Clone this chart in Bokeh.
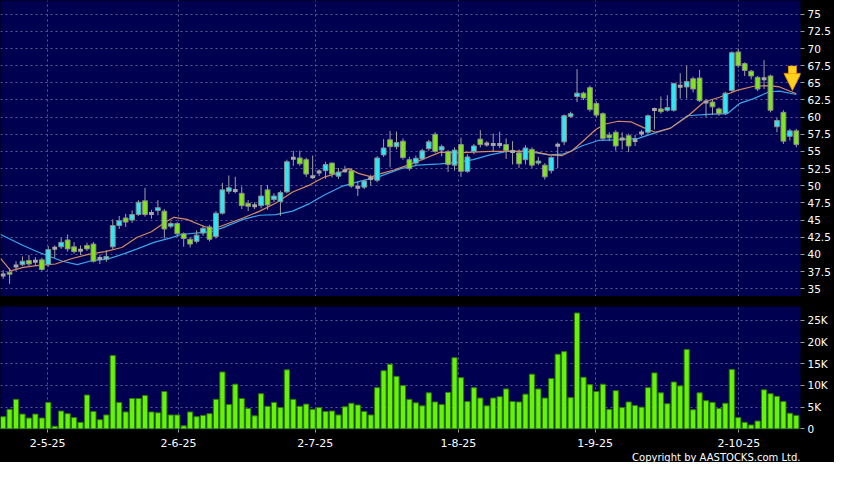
from bokeh.plotting import figure
from bokeh.layouts import column
from bokeh.models import (ColumnDataSource, Range1d, FixedTicker, Grid, Title,
                          Arrow, NormalHead, NumeralTickFormatter)
from bokeh.embed import file_html
from bokeh.resources import INLINE

# ---------------- data ----------------
opens = [37.0, 37.4, 38.3, 38.5, 39.1, 39.0, 39.2, 38.5, 40.9, 41.1,
         42.1, 41.1, 40.6, 41.3, 41.5, 39.4, 39.3, 41.1, 44.2, 45.3,
         45.0, 45.8, 47.8, 45.95, 46.4, 46.3, 44.1, 44.5, 43.0, 42.2,
         41.9, 43.1, 44.0, 42.6, 46.0, 49.2, 49.3, 48.9, 47.4, 47.1,
         47.1, 49.4, 48.0, 47.7, 49.1, 54.0, 54.05, 53.8, 51.3, 52.0,
         52.2, 53.3, 51.4, 52.2, 52.2, 49.8, 49.8, 51.05, 50.8, 54.5,
         56.7, 55.7, 56.5, 53.8, 53.3, 53.9, 55.4, 57.5, 55.2, 55.0,
         53.0, 56.0, 52.1, 55.0, 56.8, 56.1, 56.0, 56.0, 56.0, 55.0,
         54.8, 53.8, 55.3, 53.3, 53.0, 52.2, 55.9, 56.4, 60.1, 63.0,
         63.5, 64.3, 62.0, 60.5, 57.4, 57.8, 56.8, 57.3, 56.6, 57.7,
         57.8, 61.1, 61.2, 61.0, 61.0, 64.5, 64.4, 65.6, 65.7, 62.2,
         62.2, 61.2, 60.5, 63.9, 69.5, 67.8, 66.7, 65.8, 65.6, 66.0,
         58.6, 60.7, 57.2, 58.0]
highs = [37.7, 38.0, 39.0, 39.7, 39.9, 39.6, 39.5, 41.2, 41.3, 42.4,
         42.9, 41.8, 41.3, 41.7, 41.8, 39.9, 40.6, 45.1, 45.6, 45.9,
         46.4, 47.9, 49.7, 46.5, 47.9, 46.6, 44.8, 44.7, 43.2, 42.5,
         43.5, 44.2, 44.3, 46.3, 50.4, 51.5, 51.3, 49.9, 47.9, 47.6,
         50.1, 50.1, 48.9, 49.3, 53.8, 55.1, 55.1, 54.1, 54.4, 52.4,
         53.5, 53.4, 52.6, 52.9, 52.5, 50.6, 50.9, 51.6, 54.3, 56.8,
         58.0, 57.9, 56.9, 54.2, 54.4, 55.4, 56.7, 57.8, 56.0, 55.2,
         55.6, 57.0, 54.6, 56.1, 58.1, 56.5, 57.6, 57.9, 56.9, 56.5,
         55.3, 55.9, 55.6, 54.2, 53.3, 54.3, 56.3, 60.4, 60.8, 67.0,
         63.7, 64.6, 62.3, 60.7, 57.8, 58.1, 57.8, 57.6, 57.4, 58.1,
         60.4, 61.4, 63.0, 63.2, 65.0, 66.4, 67.5, 65.9, 66.9, 62.6,
         62.6, 61.4, 63.7, 69.6, 70.0, 68.0, 66.9, 66.0, 68.3, 66.2,
         59.9, 61.0, 58.3, 58.3]
lows = [36.4, 35.7, 37.6, 38.3, 38.3, 38.3, 37.6, 38.2, 39.5, 40.8,
        40.4, 40.1, 39.9, 40.5, 38.8, 38.6, 38.9, 40.7, 43.7, 44.0,
        44.6, 45.6, 45.5, 45.2, 45.7, 42.3, 43.8, 42.6, 41.1, 41.0,
        41.6, 42.7, 41.9, 42.3, 45.8, 48.8, 48.9, 46.6, 46.3, 46.6,
        46.7, 46.5, 47.6, 45.6, 48.9, 52.9, 52.9, 51.3, 51.0, 51.4,
        51.0, 51.2, 51.0, 51.9, 49.7, 48.5, 49.5, 50.0, 50.5, 54.2,
        52.7, 55.3, 53.8, 52.2, 53.0, 53.7, 55.1, 54.8, 54.3, 52.0,
        52.2, 51.3, 51.9, 54.6, 55.6, 55.7, 54.9, 55.5, 53.9, 53.1,
        52.6, 53.1, 52.6, 53.0, 50.9, 51.8, 52.6, 55.9, 59.9, 62.2,
        62.5, 60.8, 60.0, 56.6, 56.5, 55.1, 55.3, 54.9, 55.8, 57.2,
        57.5, 58.2, 60.5, 60.8, 60.8, 62.7, 62.7, 63.6, 62.2, 60.0,
        60.3, 60.2, 60.3, 63.7, 67.2, 66.0, 65.5, 63.8, 64.1, 60.7,
        57.8, 56.1, 56.6, 55.6]
closes = [37.0, 37.1, 38.3, 39.0, 38.6, 39.0, 37.8, 40.7, 40.9, 41.75,
          40.8, 40.4, 40.6, 40.8, 39.0, 39.4, 39.7, 44.2, 44.9, 44.7,
          45.8, 47.6, 45.8, 45.95, 46.8, 43.7, 44.5, 43.0, 42.3, 41.5,
          42.8, 43.8, 42.2, 46.0, 49.4, 49.7, 49.3, 47.1, 47.0, 47.1,
          48.5, 47.2, 48.5, 49.0, 53.5, 54.0, 53.2, 51.7, 51.3, 52.0,
          53.1, 51.7, 52.0, 52.2, 49.95, 49.8, 50.7, 51.05, 54.05, 55.5,
          55.7, 56.3, 54.1, 52.5, 54.0, 55.1, 56.4, 55.0, 55.7, 53.1,
          55.2, 52.1, 54.2, 55.8, 56.0, 56.1, 56.0, 56.0, 55.1, 55.0,
          53.2, 55.5, 53.0, 53.6, 51.3, 54.1, 55.9, 60.2, 60.5, 63.5,
          62.8, 61.1, 60.3, 56.9, 57.0, 55.8, 56.8, 55.8, 56.6, 57.7,
          60.2, 61.1, 60.8, 61.4, 64.9, 64.5, 65.2, 64.1, 62.4, 62.2,
          61.5, 60.5, 63.5, 69.4, 67.5, 66.8, 66.0, 64.1, 65.6, 61.0,
          59.5, 56.5, 58.0, 56.0]
volume_k = [2.8, 4.5, 6.8, 3.4, 2.5, 3.4, 2.5, 6.1, 0.6, 4.1,
            3.5, 2.6, 1.5, 7.8, 4.0, 2.1, 3.2, 16.9, 6.1, 3.9,
            7.0, 7.0, 7.7, 3.9, 3.7, 8.6, 3.2, 3.2, 0.7, 3.9,
            2.8, 3.1, 3.5, 6.8, 13.1, 5.6, 10.3, 7.0, 4.7, 3.0,
            8.1, 5.2, 6.1, 4.9, 13.6, 6.8, 5.2, 5.7, 4.5, 4.9,
            4.0, 4.1, 3.2, 5.1, 5.9, 5.5, 4.0, 3.2, 9.5, 13.4,
            14.9, 12.1, 10.0, 6.8, 6.0, 5.3, 8.3, 6.2, 5.6, 8.4,
            16.4, 11.8, 6.3, 9.5, 7.1, 5.3, 7.1, 7.4, 9.2, 6.3,
            6.2, 8.0, 12.6, 9.2, 7.1, 11.6, 17.2, 17.8, 7.2, 26.7,
            11.9, 10.2, 8.6, 10.3, 4.5, 8.8, 4.9, 6.2, 5.4, 5.0,
            9.5, 12.9, 8.3, 5.8, 10.8, 9.9, 18.3, 4.4, 8.3, 6.5,
            6.1, 4.7, 5.9, 13.7, 2.6, 1.5, 0.9, 1.8, 9.0, 8.1,
            7.5, 6.3, 3.6, 3.1]

ma10_idx = [-0.4, 1.2, 3.1, 5.5, 8.1, 10.7, 13.2, 15.8, 18.4, 20.8,
            23.0, 25.0, 26.5, 28.5, 31.1, 32.6, 37.2, 39.8, 42.3, 44.9,
            47.5, 49.9, 52.5, 53.6, 55.1, 57.1, 58.7, 60.6, 62.8, 65.2,
            67.8, 70.4, 72.9, 75.5, 78.1, 80.6, 82.7, 84.7, 86.7, 88.2,
            89.7, 91.9, 93.4, 95.4, 97.4, 99.5, 101.1, 103.5, 106.1, 108.7,
            111.1, 113.8, 116.4, 118.8, 120.4, 123.0]
ma10 = [39.4, 37.6, 38.1, 38.4, 38.6, 39.4, 40.0, 40.4, 41.0, 42.5,
        43.3, 44.6, 45.4, 45.1, 44.1, 43.7, 45.3, 46.3, 47.5, 49.1,
        50.1, 51.3, 52.0, 52.5, 51.8, 51.3, 51.8, 52.3, 53.0, 53.9,
        54.9, 54.8, 54.9, 55.0, 55.0, 55.0, 54.9, 54.5, 54.4, 55.1,
        56.3, 58.2, 59.0, 59.4, 59.3, 58.4, 57.8, 58.4, 60.1, 62.2,
        62.9, 63.9, 64.5, 64.6, 64.4, 63.4]
ma20_idx = [-0.4, 3.1, 5.5, 9.2, 11.5, 13.8, 16.2, 18.8, 20.8, 23.4,
            26.0, 27.6, 31.1, 32.6, 34.1, 37.2, 39.8, 42.3, 44.9, 47.5,
            49.9, 52.5, 55.1, 58.2, 61.7, 64.3, 67.8, 70.4, 72.9, 75.5,
            78.1, 81.2, 82.7, 84.7, 86.7, 88.2, 89.7, 92.3, 94.9, 98.5,
            101.1, 103.5, 106.1, 109.2, 112.3, 114.2, 116.4, 118.8, 120.4, 123.0]
ma20 = [42.9, 41.3, 40.3, 39.0, 38.5, 39.1, 39.3, 40.1, 40.8, 41.75,
        42.4, 42.9, 43.2, 43.4, 43.9, 45.1, 45.7, 45.8, 46.3, 47.4,
        48.7, 49.9, 50.6, 51.3, 52.5, 53.0, 53.2, 53.4, 53.8, 54.5,
        55.0, 55.0, 54.8, 54.5, 54.6, 55.1, 55.8, 56.6, 56.7, 56.9,
        57.7, 58.4, 60.2, 60.4, 60.5, 62.0, 62.7, 63.7, 63.8, 63.3]

price_ticks = [35, 37.5, 40, 42.5, 45, 47.5, 50, 52.5, 55, 57.5,
               60, 62.5, 65, 67.5, 70, 72.5, 75]
volume_ticks = [0, 5, 10, 15, 20, 25]
volume_labels = ["0", "5K", "10K", "15K", "20K", "25K"]
date_ticks = [6.9, 27.2, 48.4, 70.6, 91.8, 114.1]
date_labels = ["2-5-25", "2-6-25", "2-7-25", "1-8-25", "1-9-25", "2-10-25"]
signal_idx = [122.4]
signal_price = [63.9]

# ---------------- styles ----------------
NAVY = "#000050"
GRID = "#5a5a96"
UP = "#2fe6f2"
DOWN = "#80e41e"
DOJI = "#a8a8a8"
WICK = "#a0a0a0"
BODY_LINE = "#8c8c8c"
VOL_FILL = "#66f20a"
VOL_LINE = "#2e7a00"
MA10_C = "#d88a5c"
MA20_C = "#3aa6ea"
FONT = "DejaVu Sans"
BODY_W = 0.74

n = len(opens)
idx = list(range(n))
x_range = Range1d(-0.41, 123.65)

# candle sources
body = dict(x=[], top=[], bottom=[], color=[])
doji = dict(x0=[], x1=[], y=[])
for i, (o, c) in enumerate(zip(opens, closes)):
    if c > o:
        body["x"].append(i); body["top"].append(c); body["bottom"].append(o); body["color"].append(UP)
    elif c < o:
        body["x"].append(i); body["top"].append(o); body["bottom"].append(c); body["color"].append(DOWN)
    else:
        doji["x0"].append(i - BODY_W / 2); doji["x1"].append(i + BODY_W / 2); doji["y"].append(o)

wick_src = ColumnDataSource(dict(x=idx, low=lows, high=highs))
body_src = ColumnDataSource(body)
doji_src = ColumnDataSource(doji)


def style_axis(ax, size="10.5px"):
    ax.axis_line_color = None
    ax.major_tick_line_color = "#9a9a9a"
    ax.major_tick_out = 4
    ax.major_tick_in = 0
    ax.minor_tick_line_color = None
    ax.major_label_text_color = "white"
    ax.major_label_text_font = FONT
    ax.major_label_text_font_size = size
    ax.major_label_standoff = 3


# ---------------- price panel ----------------
p = figure(width=834, height=296, x_range=x_range, y_range=Range1d(33.86, 77.0),
           output_backend="svg", toolbar_location=None, x_axis_type=None,
           y_axis_location="right", min_border_left=0, min_border_right=34,
           min_border_top=0, min_border_bottom=0,
           background_fill_color=NAVY, border_fill_color="black",
           outline_line_color=None)
p.yaxis.ticker = FixedTicker(ticks=price_ticks)
p.yaxis.formatter = NumeralTickFormatter(format="0[.]0")
style_axis(p.yaxis[0])
p.ygrid.grid_line_color = GRID
p.ygrid.grid_line_dash = "2 3"
p.add_layout(Grid(dimension=0, ticker=FixedTicker(ticks=date_ticks),
                  grid_line_color=GRID, grid_line_dash="2 3"))

p.line(ma20_idx, ma20, line_color=MA20_C, line_width=1.2)
p.line(ma10_idx, ma10, line_color=MA10_C, line_width=1.2)
p.segment(x0="x", y0="low", x1="x", y1="high", source=wick_src,
          line_color=WICK, line_width=1)
p.vbar(x="x", top="top", bottom="bottom", width=BODY_W, source=body_src,
       fill_color="color", line_color=BODY_LINE, line_width=1)
p.segment(x0="x0", y0="y", x1="x1", y1="y", source=doji_src,
          line_color=DOJI, line_width=3)

# down-arrow signal
p.add_layout(Arrow(end=None, x_start=signal_idx[0], y_start=signal_price[0] + 3.6,
                   x_end=signal_idx[0], y_end=signal_price[0] + 1.6,
                   line_color="#e08a00", line_width=9))
p.add_layout(Arrow(end=NormalHead(size=17, fill_color="#ffd21f", line_color="#e08a00",
                                  line_width=1),
                   x_start=signal_idx[0], y_start=signal_price[0] + 3.5,
                   x_end=signal_idx[0], y_end=signal_price[0],
                   line_color="#ffd21f", line_width=7))

# ---------------- volume panel ----------------
v = figure(width=834, height=166, x_range=x_range, y_range=Range1d(-0.15, 28.2),
           output_backend="svg", toolbar_location=None,
           y_axis_location="right", min_border_left=0, min_border_right=34,
           min_border_top=10, min_border_bottom=20,
           background_fill_color=NAVY, border_fill_color="black",
           outline_line_color=None)
v.yaxis.ticker = FixedTicker(ticks=volume_ticks)
v.yaxis.major_label_overrides = {t: lab for t, lab in zip(volume_ticks, volume_labels)}
style_axis(v.yaxis[0])
date_ticker = FixedTicker(ticks=date_ticks)
v.xaxis.ticker = date_ticker
v.xaxis.major_label_overrides = {t: lab for t, lab in zip(date_ticks, date_labels)}
style_axis(v.xaxis[0], "11px")
v.xaxis.major_tick_out = 3
v.xaxis.major_label_standoff = 6
v.xgrid.ticker = date_ticker
v.xgrid.grid_line_color = GRID
v.xgrid.grid_line_dash = "2 3"
v.ygrid.grid_line_color = GRID
v.ygrid.grid_line_dash = "2 3"

v.vbar(x=idx, top=volume_k, bottom=0, width=0.8, fill_color=VOL_FILL,
       line_color=VOL_LINE, line_width=1)

v.add_layout(Title(text="Copyright by AASTOCKS.com Ltd.", align="right",
                   text_color="white", text_font=FONT, text_font_size="10px",
                   text_font_style="normal", offset=0, standoff=0), "below")

layout = column(p, v, spacing=0, styles={"background-color": "black"})
open("out.html", "w").write(file_html(layout, INLINE))
